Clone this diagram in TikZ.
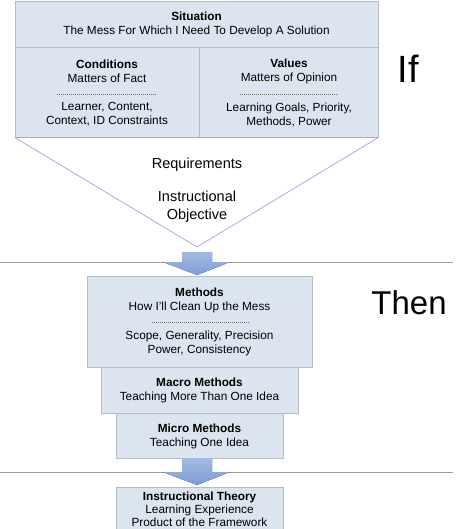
\documentclass[tikz,border=0pt]{standalone}
\usepackage{fontspec}
\setmainfont{Liberation Sans}
\usepackage{xcolor}
\definecolor{BoxFill}{HTML}{DCE4F0}
\definecolor{BoxEdge}{HTML}{B4BCC8}
\definecolor{FunnelEdge}{HTML}{A8A8E8}
\definecolor{ArrowTop}{HTML}{A3BAE2}
\definecolor{ArrowBottom}{HTML}{7F9DD4}
\definecolor{RuleGray}{HTML}{9A9A9A}

\begin{document}
\begin{tikzpicture}[
	x=1pt, y=-1pt, % one unit is one pixel of the layout
	% Style for the shaded boxes
	box/.style={
		draw=BoxEdge,
		fill=BoxFill,
		line width=0.8pt,
		inner sep=0pt
	},
	% Style for the text in the boxes
	boxtext/.style={
		align=center,
		inner sep=0pt,
		font=\fontsize{11.8}{14}\selectfont
	},
	% Style for the free text in the funnel
	funneltext/.style={
		align=center,
		inner sep=0pt,
		font=\fontsize{14.5}{18}\selectfont
	},
	% Style for the short dashed rules
	sep rule/.style={
		draw=black!55,
		line width=0.4pt,
		dash pattern=on 1.2pt off 0.8pt
	},
	% Style for the down arrows
	down arrow/.style={
		top color=ArrowTop,
		bottom color=ArrowBottom,
		draw=none
	},
	% Style for the big side words
	side word/.style={
		inner sep=0pt
	}
	]
	
	\useasboundingbox (0,0) rectangle (474,529);
	
	% 1. Top part: situation, conditions, values and the funnel
	\node[box, minimum width=363, minimum height=46] (situation) at (196.5,24) {};
	\node[box, minimum width=184, minimum height=90] (conditions) at (107,92) {};
	\node[box, minimum width=179, minimum height=90] (values) at (288.5,92) {};
	\draw[FunnelEdge, line width=0.8pt] (conditions.south west) -- (values.south east);
	
	\coordinate (apex) at (197,247);
	\draw[FunnelEdge, line width=0.8pt] (conditions.south west) -- (apex) -- (values.south east);
	
	\node[boxtext] (sitText) at (196.5,24.5) {\textbf{Situation}\\The Mess For Which I Need To Develop A Solution};
	
	\node[boxtext] (condTop) at (107,71) {\textbf{Conditions}\\Matters of Fact};
	\draw[sep rule] (57,94) -- (157,94);
	\node[boxtext] (condBot) at (107,114.5) {Learner, Content,\\Context, ID Constraints};
	
	\node[boxtext] (valTop) at (289,71) {\textbf{Values}\\Matters of Opinion};
	\draw[sep rule] (240,94) -- (338,94);
	\node[boxtext] (valBot) at (289,114.5) {Learning Goals, Priority,\\Methods, Power};
	
	\node[funneltext] (req) at (197,165) {Requirements};
	\node[funneltext] (objective) at (197,207) {Instructional\\Objective};
	
	\node[side word, font=\fontsize{38}{40}\selectfont] (ifWord) at (408,69) {If};
	
	% 2. Divider and first arrow
	\draw[RuleGray, line width=0.9pt] (0,262) -- (453,262);
	\fill[down arrow] (182,252) -- (212,252) -- (212,262) -- (230,262) -- (197,275)
		-- (163,262) -- (182,262) -- cycle;
	
	% 3. Middle part: methods
	\node[box, minimum width=225, minimum height=91] (methods) at (199.5,321.5) {};
	\node[box, minimum width=197, minimum height=46] (macro) at (199.5,390) {};
	\node[box, minimum width=167, minimum height=45] (micro) at (199.5,435.5) {};
	
	\node[boxtext] (methTop) at (199.5,300) {\textbf{Methods}\\How I'll Clean Up the Mess};
	\draw[sep rule] (152,322) -- (250,322);
	\node[boxtext] (methBot) at (199.5,343.5) {Scope, Generality, Precision\\Power, Consistency};
	
	\node[boxtext] (macroText) at (199.5,390.5) {\textbf{Macro Methods}\\Teaching More Than One Idea};
	\node[boxtext] (microText) at (199.5,436) {\textbf{Micro Methods}\\Teaching One Idea};
	
	\node[side word, font=\fontsize{33}{35}\selectfont] (thenWord) at (409,303) {Then};
	
	% 4. Divider and second arrow
	\draw[RuleGray, line width=0.9pt] (0,472) -- (453,472);
	\fill[down arrow] (182,458) -- (212,458) -- (212,472) -- (230,472) -- (197,485)
		-- (163,472) -- (182,472) -- cycle;
	
	% 5. Bottom part: instructional theory
	\node[box, minimum width=167, minimum height=56] (theory) at (199.5,515) {};
	\node[boxtext, font=\fontsize{11.8}{13}\selectfont] (theoryText) at (199.5,509.5)
		{\textbf{Instructional Theory}\\Learning Experience\\Product of the Framework};
	
\end{tikzpicture}
\end{document}
